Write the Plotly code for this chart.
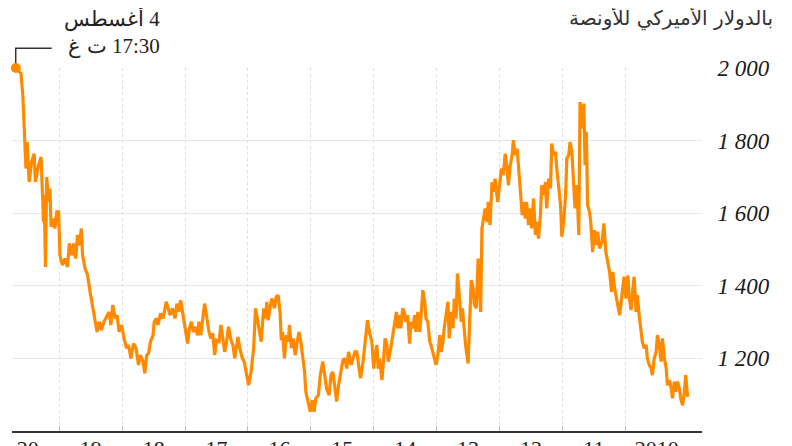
import plotly.graph_objects as go

# Gold price, USD per ounce (decimal year, newest first)
years = [
    2020.69, 2020.61, 2020.58, 2020.55, 2020.53, 2020.51, 2020.48, 2020.44, 2020.40, 2020.38,
    2020.33, 2020.29, 2020.26, 2020.25, 2020.24, 2020.22, 2020.20, 2020.17, 2020.15, 2020.13,
    2020.10, 2020.07, 2020.04, 2020.01, 2019.99, 2019.95, 2019.91, 2019.87, 2019.84, 2019.80,
    2019.77, 2019.74, 2019.71, 2019.68, 2019.65, 2019.63, 2019.59, 2019.55, 2019.51, 2019.47,
    2019.43, 2019.40, 2019.36, 2019.33, 2019.29, 2019.25, 2019.21, 2019.18, 2019.15, 2019.11,
    2019.08, 2019.05, 2019.01, 2018.97, 2018.93, 2018.90, 2018.86, 2018.82, 2018.78, 2018.74,
    2018.71, 2018.67, 2018.64, 2018.61, 2018.58, 2018.55, 2018.51, 2018.49, 2018.46, 2018.43,
    2018.39, 2018.35, 2018.30, 2018.27, 2018.24, 2018.20, 2018.16, 2018.13, 2018.10, 2018.07,
    2018.04, 2018.00, 2017.96, 2017.93, 2017.90, 2017.87, 2017.84, 2017.80, 2017.78, 2017.75,
    2017.72, 2017.69, 2017.66, 2017.62, 2017.59, 2017.56, 2017.53, 2017.50, 2017.46, 2017.43,
    2017.40, 2017.37, 2017.34, 2017.31, 2017.27, 2017.24, 2017.21, 2017.18, 2017.16, 2017.13,
    2017.09, 2017.06, 2017.03, 2016.99, 2016.95, 2016.91, 2016.88, 2016.85, 2016.82, 2016.79,
    2016.75, 2016.72, 2016.70, 2016.68, 2016.65, 2016.62, 2016.58, 2016.55, 2016.52, 2016.49,
    2016.47, 2016.45, 2016.42, 2016.39, 2016.36, 2016.34, 2016.31, 2016.28, 2016.25, 2016.22,
    2016.19, 2016.16, 2016.13, 2016.10, 2016.08, 2016.04, 2016.01, 2015.98, 2015.95, 2015.92,
    2015.88, 2015.85, 2015.81, 2015.78, 2015.75, 2015.71, 2015.68, 2015.65, 2015.62, 2015.59,
    2015.56, 2015.52, 2015.49, 2015.46, 2015.43, 2015.40, 2015.36, 2015.33, 2015.30, 2015.27,
    2015.24, 2015.21, 2015.17, 2015.13, 2015.10, 2015.07, 2015.03, 2015.00, 2014.98, 2014.95,
    2014.93, 2014.91, 2014.87, 2014.85, 2014.82, 2014.79, 2014.77, 2014.73, 2014.70, 2014.67,
    2014.64, 2014.62, 2014.59, 2014.57, 2014.54, 2014.51, 2014.49, 2014.46, 2014.43, 2014.41,
    2014.38, 2014.35, 2014.33, 2014.30, 2014.27, 2014.25, 2014.22, 2014.19, 2014.17, 2014.14,
    2014.11, 2014.09, 2014.06, 2014.03, 2014.01, 2013.98, 2013.95, 2013.93, 2013.90, 2013.88,
    2013.85, 2013.82, 2013.80, 2013.77, 2013.74, 2013.72, 2013.69, 2013.67, 2013.64, 2013.61,
    2013.59, 2013.56, 2013.54, 2013.50, 2013.48, 2013.45, 2013.42, 2013.40, 2013.37, 2013.34,
    2013.32, 2013.30, 2013.28, 2013.26, 2013.23, 2013.20, 2013.18, 2013.15, 2013.12, 2013.10,
    2013.07, 2013.03, 2013.00, 2012.97, 2012.94, 2012.91, 2012.88, 2012.86, 2012.83, 2012.80,
    2012.78, 2012.75, 2012.72, 2012.70, 2012.67, 2012.64, 2012.62, 2012.59, 2012.57, 2012.54,
    2012.51, 2012.49, 2012.46, 2012.43, 2012.41, 2012.38, 2012.35, 2012.33, 2012.30, 2012.27,
    2012.25, 2012.22, 2012.19, 2012.17, 2012.14, 2012.11, 2012.09, 2012.06, 2012.03, 2012.01,
    2011.98, 2011.95, 2011.93, 2011.90, 2011.88, 2011.85, 2011.82, 2011.80, 2011.77, 2011.74,
    2011.72, 2011.69, 2011.66, 2011.64, 2011.62, 2011.60, 2011.57, 2011.55, 2011.52, 2011.49,
    2011.46, 2011.44, 2011.41, 2011.37, 2011.34, 2011.31, 2011.28, 2011.25, 2011.22, 2011.20,
    2011.17, 2011.14, 2011.12, 2011.09, 2011.06, 2011.04, 2011.02, 2010.99, 2010.96, 2010.94,
    2010.91, 2010.88, 2010.86, 2010.83, 2010.81, 2010.78, 2010.75, 2010.73, 2010.70, 2010.67,
    2010.65, 2010.62, 2010.59, 2010.57, 2010.54, 2010.51, 2010.49, 2010.46, 2010.43, 2010.41,
    2010.38, 2010.35, 2010.33, 2010.30, 2010.27, 2010.25, 2010.22, 2010.20, 2010.17, 2010.14,
    2010.12, 2010.09, 2010.06, 2010.04, 2010.01,
]
price = [
    2000, 1985, 1925, 1815, 1723, 1796, 1686, 1741, 1764, 1686,
    1732, 1755, 1640, 1576, 1650, 1452, 1700, 1631, 1668, 1562,
    1585, 1558, 1604, 1604, 1484, 1457, 1475, 1452, 1517, 1484,
    1517, 1475, 1540, 1512, 1558, 1484, 1448, 1429, 1383, 1338,
    1301, 1273, 1301, 1278, 1301, 1314, 1328, 1292, 1347, 1310,
    1319, 1273, 1292, 1255, 1228, 1237, 1200, 1241, 1228, 1182,
    1209, 1191, 1159, 1209, 1214, 1246, 1264, 1301, 1310, 1292,
    1324, 1310, 1356, 1338, 1319, 1338, 1310, 1351, 1328, 1360,
    1328, 1283, 1241, 1283, 1301, 1273, 1287, 1264, 1301, 1264,
    1310, 1351, 1319, 1273, 1255, 1269, 1209, 1250, 1246, 1292,
    1255, 1218, 1246, 1287, 1250, 1237, 1200, 1232, 1259, 1228,
    1200, 1191, 1163, 1126, 1163, 1228, 1338, 1310, 1273, 1246,
    1338, 1310, 1356, 1305, 1338, 1365, 1338, 1370, 1374, 1328,
    1250, 1273, 1200, 1264, 1246, 1292, 1228, 1255, 1209, 1246,
    1273, 1246, 1209, 1163, 1108, 1081, 1053, 1085, 1053, 1090,
    1099, 1154, 1191, 1154, 1117, 1099, 1154, 1163, 1117, 1081,
    1126, 1172, 1195, 1200, 1172, 1218, 1182, 1200, 1218, 1218,
    1182, 1145, 1191, 1255, 1305, 1273, 1246, 1172, 1209, 1237,
    1172, 1200, 1140, 1182, 1255, 1237, 1191, 1228, 1264, 1301,
    1328, 1283, 1319, 1283, 1338, 1324, 1301, 1319, 1241, 1301,
    1283, 1319, 1273, 1328, 1273, 1310, 1388, 1356, 1310, 1301,
    1246, 1237, 1218, 1191, 1182, 1209, 1264, 1218, 1246, 1283,
    1319, 1356, 1255, 1328, 1283, 1365, 1310, 1434, 1374, 1301,
    1338, 1264, 1237, 1186, 1301, 1416, 1393, 1347, 1338, 1475,
    1393, 1328, 1558, 1585, 1613, 1576, 1631, 1567, 1686, 1659,
    1695, 1631, 1686, 1723, 1705, 1764, 1723, 1677, 1732, 1760,
    1801, 1760, 1778, 1732, 1668, 1595, 1631, 1585, 1631, 1567,
    1613, 1558, 1640, 1540, 1576, 1530, 1595, 1677, 1650, 1686,
    1613, 1695, 1668, 1792, 1760, 1769, 1723, 1668, 1622, 1535,
    1576, 1650, 1751, 1760, 1796, 1769, 1677, 1613, 1677, 1540,
    1906, 1833, 1902, 1732, 1824, 1622, 1604, 1576, 1493, 1553,
    1512, 1549, 1503, 1521, 1572, 1493, 1466, 1438, 1383, 1438,
    1393, 1365, 1347, 1319, 1365, 1393, 1425, 1365, 1429, 1374,
    1333, 1393, 1425, 1328, 1374, 1319, 1283, 1246, 1228, 1237,
    1200, 1182, 1172, 1154, 1200, 1218, 1264, 1237, 1191, 1255,
    1200, 1172, 1126, 1140, 1117, 1090, 1136, 1108, 1136, 1117,
    1090, 1071, 1108, 1154, 1094,
]

year_ticks = [2011, 2012, 2013, 2014, 2015, 2016, 2017, 2018, 2019, 2020]
label_pos = [2010.5, 2011.5, 2012.5, 2013.5, 2014.5, 2015.5, 2016.5, 2017.5, 2018.5, 2019.5, 2020.5]
label_text = ["2010", "11", "12", "13", "14", "15", "16", "17", "18", "19", "20"]
y_ticks = [1200, 1400, 1600, 1800, 2000]
y_text = ["1 200", "1 400", "1 600", "1 800", "2 000"]

ORANGE = "#ff8a00"
SERIF = "Liberation Serif, DejaVu Serif, serif"

fig = go.Figure()

fig.add_trace(go.Scatter(x=years, y=price, mode="lines",
                         line=dict(color=ORANGE, width=3.2),
                         hoverinfo="skip", showlegend=False))

# Latest value marker
fig.add_trace(go.Scatter(x=years[:1], y=price[:1], mode="markers",
                         marker=dict(color=ORANGE, size=10),
                         cliponaxis=False, hoverinfo="skip", showlegend=False))

fig.update_xaxes(range=[2020.752, 2009.781], autorange=False,
                 tickmode="array", tickvals=label_pos, ticktext=label_text,
                 ticks="", ticklabelstandoff=-3,
                 tickfont=dict(family=SERIF, size=22, color="#222"),
                 showgrid=False, zeroline=False,
                 showline=True, linecolor="#333", linewidth=2,
                 automargin=False,
                 minor=dict(tickmode="array", tickvals=year_ticks,
                            ticks="inside", ticklen=5, tickwidth=1,
                            tickcolor="#bbbbbb", showgrid=True,
                            gridcolor="#dddddd", griddash="dot", gridwidth=1))

fig.update_yaxes(range=[1000, 2000], autorange=False, side="right",
                 tickmode="array", tickvals=y_ticks, ticktext=y_text,
                 ticks="outside", ticklen=10, tickcolor="rgba(0,0,0,0)",
                 tickfont=dict(family=SERIF, size=23, color="#1a1a1a",
                               style="italic"),
                 showgrid=True, gridcolor="#e8e8e8", gridwidth=1,
                 zeroline=False, showline=False, automargin=False)

# Callout for the latest value
fig.add_shape(type="path", xref="paper", yref="paper", layer="below",
              path="M 0.0054,1.0 L 0.0054,1.0542 L 0.0576,1.0542",
              line=dict(color="#333", width=1.5))
fig.add_annotation(xref="paper", yref="paper", x=0.2175, y=1.0996,
                   xanchor="right", yanchor="middle", align="right",
                   showarrow=False,
                   text="\u202b4 أغسطس\u202c<br>\u202b17:30 ت غ\u202c",
                   font=dict(family=SERIF, size=21, color="#222"))

# Unit label
fig.add_annotation(xref="paper", yref="paper", x=1.1063, y=1.1368,
                   xanchor="right", yanchor="middle", showarrow=False,
                   text="بالدولار الأميركي للأونصة",
                   font=dict(family="DejaVu Sans, Noto Sans, sans-serif",
                             size=20, color="#333"))

# the page body adds an 8px offset, so the figure is 8px smaller than the window
fig.update_layout(width=784, height=438, template="none",
                  paper_bgcolor="white", plot_bgcolor="white",
                  margin=dict(l=4, r=90.3, t=59.7, b=15),
                  showlegend=False)

fig.write_html("out.html")
